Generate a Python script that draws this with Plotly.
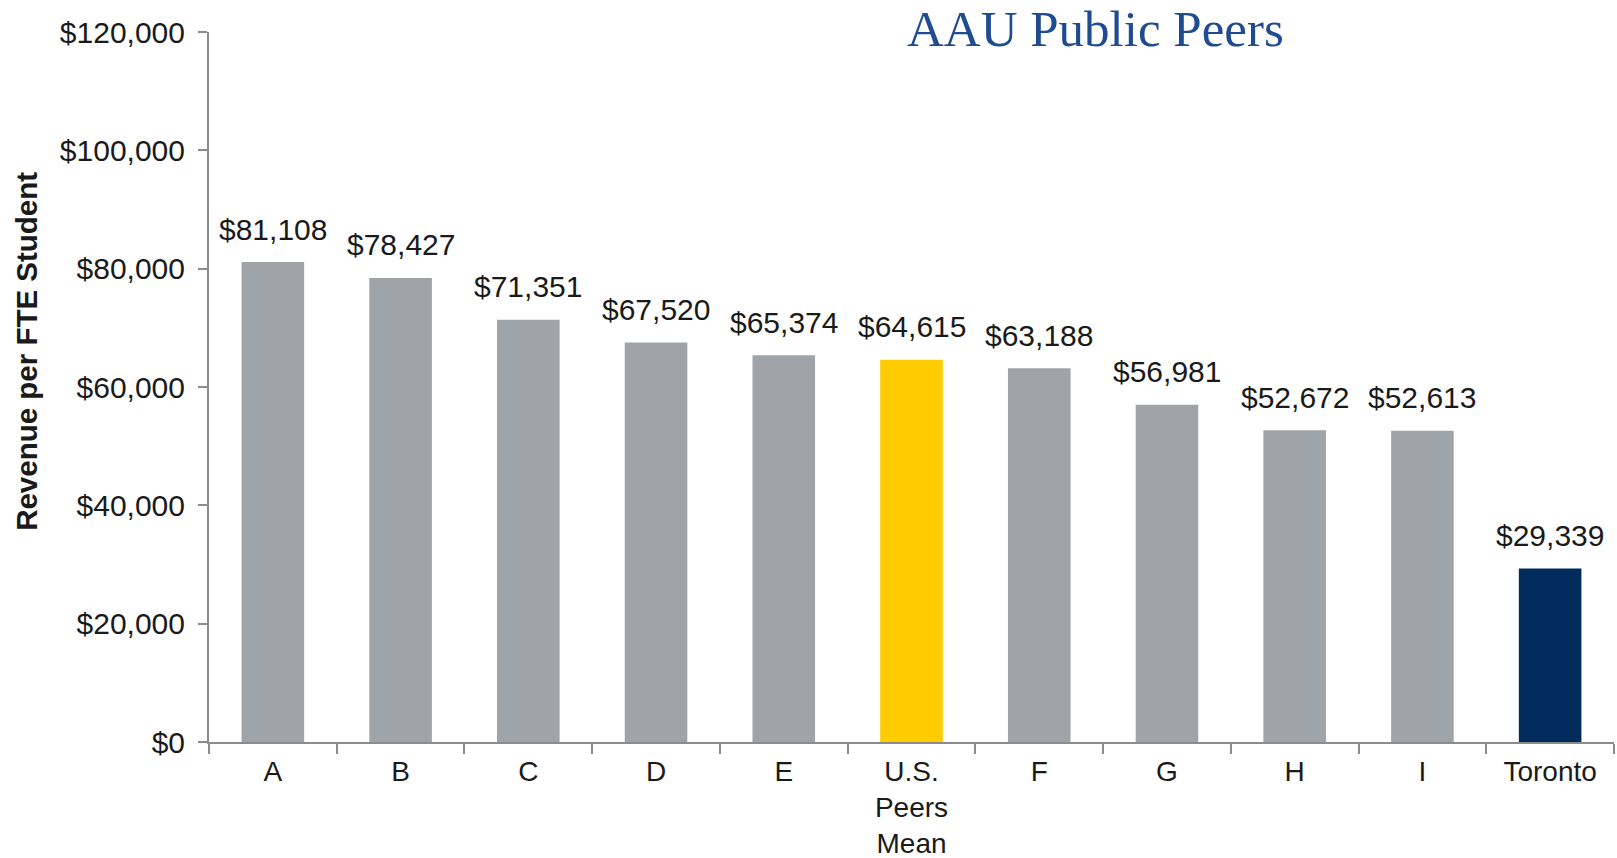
import plotly.graph_objects as go

categories = ["A", "B", "C", "D", "E", "U.S.<br>Peers<br>Mean", "F", "G", "H", "I", "Toronto"]
values = [81108, 78427, 71351, 67520, 65374, 64615, 63188, 56981, 52672, 52613, 29339]
bar_colors = ["#9ea4a7"] * 5 + ["#ffcc00"] + ["#9ea4a7"] * 4 + ["#002b5c"]
y_tick_vals = [0, 20000, 40000, 60000, 80000, 100000, 120000]
y_tick_text = ["$0", "$20,000", "$40,000", "$60,000", "$80,000", "$100,000", "$120,000"]
title_text = "AAU Public Peers"
y_title = "Revenue per FTE Student"

FONT = "Liberation Sans, Arial, sans-serif"
TXT = "#1a1a1a"
AX = "#8c8c8c"

fig = go.Figure()
fig.add_trace(go.Bar(
    x=categories,
    y=values,
    marker=dict(color=bar_colors, line=dict(width=0)),
    width=0.49,
    hoverinfo="skip",
))

for c, v in zip(categories, values):
    fig.add_annotation(
        x=c, y=v, xref="x", yref="y",
        text="${:,}".format(v),
        showarrow=False, yanchor="middle", yshift=33,
        font=dict(family=FONT, size=30, color=TXT),
    )

fig.add_annotation(
    x=0.631, y=1, xref="paper", yref="paper",
    text=title_text, showarrow=False, xanchor="center", yanchor="middle", yshift=3,
    font=dict(family="Liberation Serif, Times New Roman, serif", size=51, color="#1f4b91"),
)

fig.add_annotation(
    x=-0.130, y=0.55, xref="paper", yref="paper",
    text="<b>" + y_title + "</b>", textangle=-90, showarrow=False,
    xanchor="center", yanchor="middle",
    font=dict(family=FONT, size=29.5, color=TXT),
)

fig.update_layout(
    width=1617, height=858,
    margin=dict(l=209, r=3, t=32, b=116, autoexpand=False),
    paper_bgcolor="white", plot_bgcolor="white",
    showlegend=False,
    bargap=0.5,
)

fig.update_xaxes(
    type="category",
    range=[-0.5, len(categories) - 0.5],
    tickson="boundaries",
    ticks="outside", ticklen=10, tickwidth=2, tickcolor=AX,
    showline=True, linecolor=AX, linewidth=2,
    showgrid=False, zeroline=False, automargin=False,
    ticklabelstandoff=3,
    tickfont=dict(family=FONT, size=28, color=TXT),
)

fig.update_yaxes(
    range=[0, 120000],
    tickmode="array", tickvals=y_tick_vals, ticktext=y_tick_text,
    ticks="outside", ticklen=9, tickwidth=2, tickcolor=AX,
    showline=True, linecolor=AX, linewidth=2,
    showgrid=False, zeroline=False, automargin=False,
    ticklabelstandoff=7,
    tickfont=dict(family=FONT, size=30, color=TXT),
)

fig.write_html(
    "out.html",
    config={"displayModeBar": False},
    post_script="document.body.style.margin='0';document.body.style.overflow='hidden';",
)
